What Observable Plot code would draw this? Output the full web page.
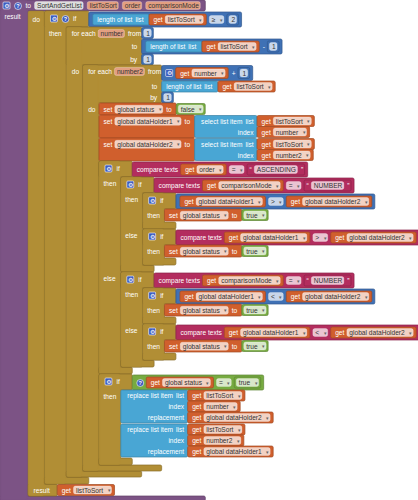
<!DOCTYPE html>
<html><head><meta charset="utf-8">
<script src="https://cdn.jsdelivr.net/npm/d3@7"></script>
<script src="https://cdn.jsdelivr.net/npm/@observablehq/plot@0.6"></script>
<style>body{margin:0;background:#fff}</style>
</head><body><div id="chart"></div>
<script>
// ---------- content ----------
const procName = "SortAndGetList";
const procParams = ["listToSort", "order", "comparisonMode"];
const loopVars = ["number", "number2"];
const globalVars = ["global status", "global dataHolder1", "global dataHolder2"];
const textValues = ["ASCENDING", "NUMBER"];
const operators = ["≥", "=", ">", "<"];
const numberValues = [1, 2];
const boolValues = ["false", "true"];
const armLabels = ["then", "else", "do", "result"];

// ---------- style ----------
const pal = {proc:"#7c5385", control:"#b18e35", variable:"#d05f2d", list:"#49a6d4",
             math:"#3f71b5", text:"#b32d5e", logic:"#77ab41"};
const FS = 6.6, PL = 4, PR = 3, GAP = 3, LEAF = 11, INPAD = 2, ICON = 7;
const ctx = document.createElement("canvas").getContext("2d");
ctx.font = `${FS}px "Liberation Sans"`;
const tw = s => ctx.measureText(s).width;
const dark = c => d3.color(pal[c]).darker(0.7).formatHex();
const fieldFill = (cat, style) => style === "name" ? "#dedede"
  : style === "param" ? d3.interpolateRgb(pal.variable, "#fff")(0.4)
  : d3.interpolateRgb(pal[cat], "#fff")(0.72);

// ---------- block constructors ----------
const L = s => ({k:"label", s});
const F = (s, dd=false, style=null) => ({k:"field", s:String(s), dd, style});
const I = icon => ({k:"icon", icon});
const C = node => ({k:"child", node});

const get = name => ({cat:"variable", parts:[L("get"), F(name, true)]});
const num = n => ({cat:"math", tight:true, parts:[F(n)]});
const bool = v => ({cat:"logic", tight:true, parts:[F(v, true)]});
const txt = s => ({cat:"text", tight:true, parts:[L("“"), F(s), L("”")]});
const lengthOf = v => ({cat:"list", parts:[L("length of list"), L("list")], ext:v});
const mathCmp = (a, op, b) => ({cat:"math", parts:[C(a), F(op, true), C(b)]});
const textCmp = (a, op, b) => ({cat:"text", parts:[L("compare texts"), C(a), F(op, true), C(b)]});
const logicCmp = (a, op, b) => ({cat:"logic", parts:[I("?"), C(a), F(op, true), C(b)]});
const plus = (a, b) => ({cat:"math", parts:[I("gear"), C(a), L("+"), C(b)]});
const minus = (a, b) => ({cat:"math", parts:[C(a), L("-"), C(b)]});
const select = (l, i) => ({cat:"list", rows:[{lab:["select list item", "list"], v:l}, {lab:["index"], v:i}]});
const replace = (l, i, r) => ({st:"rows", val:{cat:"list", rows:[
  {lab:["replace list item", "list"], v:l}, {lab:["index"], v:i}, {lab:["replacement"], v:r}]}});
const setS = (name, v) => ({st:"set", cat:"variable", parts:[L("set"), F(name, true), L("to")], ext:v});
const ifS = (cond, arms, icons=["gear"]) => ({st:"if", cond, icons, arms:arms.map(([lab, body]) => ({lab, body}))});
const forS = (v, from, to, by, body) => ({st:"for", v, from, to, by, body});

// ---------- the program ----------
const [pList, pOrder, pMode] = procParams;
const [vN, vN2] = loopVars;
const [gStatus, gDh1, gDh2] = globalVars;
const [tAsc, tNum] = textValues;
const [opGe, opEq, opGt, opLt] = operators;
const [one, two] = numberValues;
const [bFalse, bTrue] = boolValues;
const [lThen, lElse] = armLabels;

const innerIf = op => ifS(mathCmp(get(gDh1), op, get(gDh2)), [[lThen, [setS(gStatus, bool(bTrue))]]]);
const innerIfT = op => ifS(textCmp(get(gDh1), op, get(gDh2)), [[lThen, [setS(gStatus, bool(bTrue))]]]);
const middleIf = op => ifS(textCmp(get(pMode), opEq, txt(tNum)), [[lThen, [innerIf(op)]], [lElse, [innerIfT(op)]]]);
const orderIf = ifS(textCmp(get(pOrder), opEq, txt(tAsc)), [[lThen, [middleIf(opGt)]], [lElse, [middleIf(opLt)]]]);
const swapIf = ifS(logicCmp(get(gStatus), opEq, bool(bTrue)), [[lThen, [
  replace(get(pList), get(vN), get(gDh2)), replace(get(pList), get(vN2), get(gDh1))]]]);
const loop2 = forS(vN2, plus(get(vN), num(one)), lengthOf(get(pList)), num(one), [
  setS(gStatus, bool(bFalse)), setS(gDh1, select(get(pList), get(vN))),
  setS(gDh2, select(get(pList), get(vN2))), orderIf, swapIf]);
const loop1 = forS(vN, num(one), minus(lengthOf(get(pList)), num(one)), num(one), [loop2]);
const topIf = ifS(mathCmp(lengthOf(get(pList)), opGe, num(two)), [[lThen, [loop1]]], ["gear", "?"]);
const doResult = {st:"doresult", body:[topIf], result:get(pList)};

// ---------- layout ----------
const S = {rects:[], fields:[], icons:[], texts:[]};
const rect = (x1, y1, x2, y2, cat) => S.rects.push({x1, y1, x2, y2, fill:pal[cat], stroke:dark(cat)});
const patch = (x1, y1, x2, y2, cat) => S.rects.push({x1:x1+0.7, y1:y1+0.7, x2:x2-0.7, y2:y2-0.7, fill:pal[cat], stroke:pal[cat]});
const label = (x, y, s, anchor="start") => S.texts.push({x, y, s, fill:"#ffffff", anchor, size:FS});
const fieldW = f => tw(f.s) + 4 + (f.dd ? 7 : 0);
const partW = p => p.k === "label" ? tw(p.s) : p.k === "field" ? fieldW(p) : p.k === "icon" ? ICON : mv(p.node).w;

function mv(n) {
  if (n.m) return n.m;
  let m;
  if (n.rows) {
    const labW = d3.max(n.rows, r => d3.sum(r.lab, tw) + GAP * (r.lab.length - 1));
    const bodyW = PL + labW + 6;
    const hs = n.rows.map(r => Math.max(LEAF, mv(r.v).h));
    m = {bodyW, hs, h:d3.sum(hs), w:bodyW + d3.max(n.rows, r => mv(r.v).w)};
  } else {
    const pl = n.tight ? 2 : PL, pr = n.tight ? 2 : PR;
    const ws = n.parts.map(partW);
    const bodyW = pl + d3.sum(ws) + GAP * (ws.length - 1) + pr + (n.ext ? 3 : 0);
    let h = Math.max(LEAF, ...n.parts.filter(p => p.k === "child").map(p => mv(p.node).h + 2 * INPAD));
    if (n.ext) h = Math.max(h, mv(n.ext).h);
    m = {bodyW, ws, h, w:bodyW + (n.ext ? mv(n.ext).w : 0), pl};
  }
  return n.m = m;
}

function drawPart(p, x, cy, w, cat) {
  if (p.k === "label") label(x, cy, p.s);
  else if (p.k === "field") {
    S.fields.push({x1:x, y1:cy - 4, x2:x + w, y2:cy + 4, fill:fieldFill(cat, p.style)});
    S.texts.push({x:x + 2, y:cy, s:p.s, fill:"#333333", anchor:"start", size:FS});
    if (p.dd) S.texts.push({x:x + w - 1.5, y:cy, s:"▾", fill:"#666666", anchor:"end", size:5});
  } else if (p.k === "icon") S.icons.push({x, cy, icon:p.icon});
  else pv(p.node, x, cy - mv(p.node).h / 2);
}

function pv(n, x, y) {
  const m = mv(n);
  rect(x, y, x + m.bodyW, y + m.h, n.cat);
  if (n.rows) {
    let ry = y;
    n.rows.forEach((r, i) => {
      const cy = ry + Math.min(m.hs[i], LEAF) / 2 + 0.3;
      let lx = x + m.bodyW - 4;
      r.lab.slice().reverse().forEach(l => { label(lx, cy, l, "end"); lx -= tw(l) + GAP; });
      pv(r.v, x + m.bodyW, ry);
      ry += m.hs[i];
    });
    return;
  }
  const cy = n.ext ? y + Math.min(m.h, LEAF) / 2 : y + m.h / 2;
  let cx = x + m.pl;
  n.parts.forEach((p, i) => { drawPart(p, cx, cy, m.ws[i], n.cat); cx += m.ws[i] + GAP; });
  if (n.ext) pv(n.ext, x + m.bodyW, y);
}

function ms(n) {
  if (n.m) return n.m;
  let m;
  if (n.st === "set") {
    const ws = n.parts.map(partW);
    m = {ws, bodyW:PL + d3.sum(ws) + GAP * (ws.length - 1) + 5, h:Math.max(12, mv(n.ext).h + 1)};
  } else if (n.st === "rows") {
    m = {h:mv(n.val).h + 1};
  } else if (n.st === "if") {
    const labW = PL + 2 + n.icons.length * (ICON + 4) + tw("if");
    const hh = Math.max(14, mv(n.cond).h + 1);
    const arms = n.arms.map(a => Math.max(13, d3.sum(a.body, s => ms(s).h)));
    m = {hdrW:labW + 13, hh, arms, arm:PL + tw(lThen) + 5, h:hh + d3.sum(arms) + 7};
  } else if (n.st === "for") {
    const hdr = [L("for each"), F(n.v, false, "param"), L("from")];
    const ws = hdr.map(partW);
    const colW = PL + d3.sum(ws) + GAP * 2 + 2;
    const rh = [mv(n.from).h + 1, mv(n.to).h, mv(n.by).h];
    const bodyH = Math.max(12, d3.sum(n.body, s => ms(s).h));
    m = {hdr, ws, colW, rh, bodyH, arm:PL + tw("do") + 5, h:d3.sum(rh) + bodyH + 6};
  } else if (n.st === "doresult") {
    const bodyH = d3.sum(n.body, s => ms(s).h);
    const rh = Math.max(12, mv(n.result).h + 1);
    m = {arm:PL + tw("do") + 5, rw:PL + tw("result") + 9, bodyH, rh, h:bodyH + rh};
  }
  return n.m = m;
}

function stack(body, x, y) {
  let sy = y;
  body.forEach(s => { ps(s, x, sy); sy += ms(s).h; });
}

function ps(n, x, y) {
  const m = ms(n);
  if (n.st === "set") {
    rect(x, y, x + m.bodyW, y + m.h, n.cat);
    let cx = x + PL;
    n.parts.forEach((p, i) => { drawPart(p, cx, y + 6.3, m.ws[i], n.cat); cx += m.ws[i] + GAP; });
    pv(n.ext, x + m.bodyW, y + 0.5);
  } else if (n.st === "rows") {
    pv(n.val, x, y);
  } else if (n.st === "if") {
    const H = m.h;
    rect(x, y, x + m.arm, y + H, "control");
    rect(x, y, x + m.hdrW, y + m.hh, "control");
    rect(x, y + H - 7, x + m.hdrW, y + H, "control");
    patch(x, y, x + m.arm, y + H, "control");
    let cx = x + PL + 2;
    const cy = y + 7.5;
    n.icons.forEach(ic => { S.icons.push({x:cx, cy, icon:ic}); cx += ICON + 4; });
    label(cx, cy, "if");
    pv(n.cond, x + m.hdrW, y + 1);
    let ay = y + m.hh;
    n.arms.forEach((a, i) => { label(x + PL, ay + 6.8, a.lab); stack(a.body, x + m.arm, ay); ay += m.arms[i]; });
  } else if (n.st === "for") {
    const H = m.h, top = d3.sum(m.rh);
    rect(x, y, x + m.arm, y + H, "control");
    rect(x, y, x + m.colW, y + top, "control");
    rect(x, y + H - 6, x + m.colW, y + H, "control");
    patch(x, y, x + m.arm, y + H, "control");
    let cx = x + PL + 1;
    m.hdr.forEach((p, i) => { drawPart(p, cx, y + 6.5, m.ws[i], "control"); cx += m.ws[i] + GAP; });
    const vx = x + m.colW;
    pv(n.from, vx, y + 0.5);
    let ry = y + m.rh[0];
    label(vx - 5, ry + Math.min(m.rh[1], 14) / 2 + 0.3, "to", "end");
    pv(n.to, vx, ry);
    ry += m.rh[1];
    label(vx - 5, ry + Math.min(m.rh[2], 12) / 2 + 0.3, "by", "end");
    pv(n.by, vx, ry);
    ry += m.rh[2];
    label(x + PL + 1, ry + 6.8, "do");
    stack(n.body, x + m.arm, ry);
  } else if (n.st === "doresult") {
    const H = m.h;
    rect(x, y, x + m.arm, y + H, "control");
    rect(x, y + m.bodyH, x + m.rw, y + H, "control");
    patch(x, y, x + m.arm, y + H, "control");
    label(x + PL, y + 8.5, "do");
    stack(n.body, x + m.arm, y);
    label(x + PL + 1, y + m.bodyH + 6.3, "result");
    pv(n.result, x + m.rw, y + m.bodyH + 0.5);
  }
}

// procedure block
const hdrParts = [I("gear"), I("?"), L("to"), F(procName, false, "name"), ...procParams.map(p => F(p, false, "param"))];
const hdrWs = hdrParts.map(partW);
const HG = 4, HH = 11;
const procW = 3 + d3.sum(hdrWs) + HG * (hdrWs.length - 1) + 5;
const colW = PL + tw("result") + 8;
const drm = ms(doResult);
const procH = HH + drm.h + 5;
rect(0, 0, colW, procH, "proc");
rect(0, 0, procW, HH, "proc");
rect(0, procH - 5, procW, procH, "proc");
patch(0, 0, colW, procH, "proc");
{
  let cx = 3;
  hdrParts.forEach((p, i) => { drawPart(p, cx, HH / 2, hdrWs[i], "proc"); cx += hdrWs[i] + HG; });
}
label(PL, HH + 5.5, "result");
ps(doResult, colW, HH);

// ---------- draw with Plot ----------
const textStart = S.texts.filter(d => d.anchor === "start");
const textEnd = S.texts.filter(d => d.anchor === "end");
const gears = S.icons.filter(d => d.icon === "gear");
const helps = S.icons.filter(d => d.icon === "?");
const font = "Liberation Sans, Arial, sans-serif";

const chart = Plot.plot({
  width: 418, height: 500, margin: 0,
  x: {domain: [0, 418], range: [0, 418], axis: null},
  y: {domain: [0, 500], range: [0, 500], axis: null},
  color: {type: "identity"},
  style: {background: "#ffffff"},
  marks: [
    Plot.rect(S.rects, {x1:"x1", y1:"y1", x2:"x2", y2:"y2", fill:"fill", stroke:"stroke", strokeWidth:0.7, rx:1.5}),
    Plot.rect(S.fields, {x1:"x1", y1:"y1", x2:"x2", y2:"y2", fill:"fill", stroke:"#ffffff", strokeOpacity:0.5, strokeWidth:0.5, rx:2}),
    Plot.rect(gears, {x1:"x", x2:d => d.x + ICON, y1:d => d.cy - 3.5, y2:d => d.cy + 3.5, fill:"#3d5cc0", stroke:"#ffffff", strokeWidth:0.6, rx:1}),
    Plot.text(gears, {x:d => d.x + ICON / 2, y:"cy", text:() => "⚙", fill:"#ffffff", fontSize:6, fontFamily:"DejaVu Sans"}),
    Plot.dot(helps, {x:d => d.x + ICON / 2, y:"cy", r:3.5, fill:"#3d5cc0", stroke:"#ffffff", strokeWidth:0.6}),
    Plot.text(helps, {x:d => d.x + ICON / 2, y:"cy", text:() => "?", fill:"#ffffff", fontSize:5.5, fontWeight:"bold", fontFamily:font}),
    Plot.text(textStart, {x:"x", y:"y", text:"s", fill:"fill", fontSize:"size", textAnchor:"start", fontFamily:font}),
    Plot.text(textEnd, {x:"x", y:"y", text:"s", fill:"fill", fontSize:"size", textAnchor:"end", fontFamily:font})
  ]
});
document.getElementById("chart").appendChild(chart);
</script>
</body></html>
